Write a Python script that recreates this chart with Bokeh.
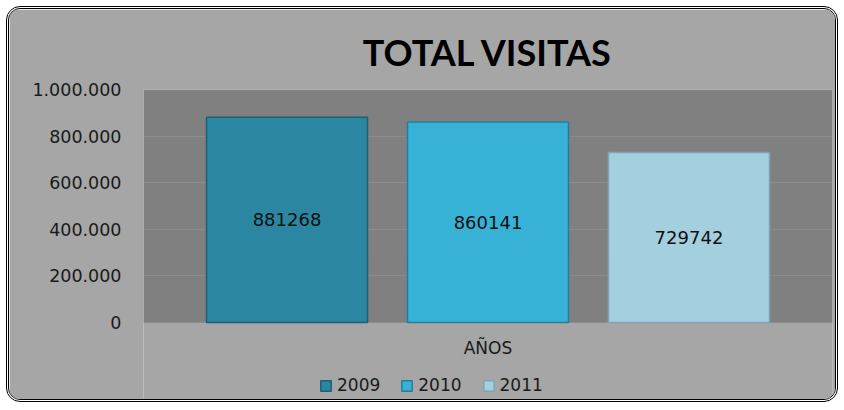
from bokeh.plotting import figure
from bokeh.models import Range1d, FixedTicker, ColumnDataSource, Legend, LegendItem, Title, BoxAnnotation
from bokeh.core.properties import value
from bokeh.embed import file_html
from bokeh.resources import INLINE

years = ["2009", "2010", "2011"]
visits = [881268, 860141, 729742]
category = "AÑOS"
y_ticks = [0, 200000, 400000, 600000, 800000, 1000000]
y_tick_labels = ["0", "200.000", "400.000", "600.000", "800.000", "1.000.000"]
bar_colors = ["#2b86a1", "#38b1d6", "#a3cfdf"]
edge_colors = ["#1d5f73", "#237f9b", "#7fa5b5"]

Y_MAX = 1000000
# layout geometry (pixels): plot-area height and space below it inside the frame
AREA_PX = 233
BELOW_PX = 79
CAT_LABEL_PX = 25
y_start = -BELOW_PX / AREA_PX * Y_MAX
cat_y = -CAT_LABEL_PX / AREA_PX * Y_MAX

# positions of the grouped bars within the single category (x range 0..1)
offsets = [-0.2917, 0.0, 0.2917]
xs = [0.5 + o for o in offsets]
half = [v / 2 for v in visits]

src = ColumnDataSource(dict(x=xs, top=visits, mid=half, color=bar_colors,
                            edge=edge_colors, year=years,
                            label=[str(v) for v in visits]))

p = figure(width=832, height=396, output_backend="svg", toolbar_location=None,
           x_range=Range1d(0, 1), y_range=Range1d(y_start, Y_MAX),
           min_border_left=134, min_border_right=9, min_border_top=80,
           min_border_bottom=4)
p.styles = {"border": "3px double #000000", "border-radius": "14px",
            "margin": "6px 0 0 6px", "overflow": "hidden"}

p.title = Title(text="TOTAL VISITAS", align="center", text_font="Lato",
                text_font_size="36px", text_font_style="bold", text_color="#000000",
                offset=0, standoff=31)
p.background_fill_color = "#a6a6a6"
p.border_fill_color = "#a6a6a6"
p.outline_line_color = None

plot_area = BoxAnnotation(left=0, right=1, bottom=0, top=Y_MAX,
                          fill_color="#808080", fill_alpha=1, line_color=None,
                          level="image")
p.add_layout(plot_area)

r = p.vbar(x="x", top="top", bottom=0, width=0.2337, fill_color="color",
           line_color="edge", line_width=1.5, source=src)

p.text(x="x", y="mid", text="label", source=src, text_align="center",
       text_baseline="middle", text_font=value("DejaVu Sans"),
       text_font_size="18px", text_color="#111111")

p.text(x=[0.5], y=[cat_y], text=[category], text_align="center",
       text_baseline="middle", text_font=value("DejaVu Sans"),
       text_font_size="17px", text_color="#1a1a1a")

p.xaxis.visible = False

p.yaxis.ticker = FixedTicker(ticks=y_ticks)
p.yaxis.major_label_overrides = {t: l for t, l in zip(y_ticks, y_tick_labels)}
p.yaxis.major_tick_line_color = None
p.yaxis.minor_tick_line_color = None
p.yaxis.axis_line_color = None
p.yaxis.major_label_text_font = "DejaVu Sans"
p.yaxis.major_label_text_font_size = "17.5px"
p.yaxis.major_label_text_color = "#1a1a1a"
p.yaxis.major_label_standoff = 16

p.xgrid.grid_line_color = None
p.ygrid.ticker = FixedTicker(ticks=y_ticks)
p.ygrid.grid_line_color = "#8c8c8c"
p.ygrid.grid_line_width = 1

items = [LegendItem(label=y, renderers=[r], index=i) for i, y in enumerate(years)]
legend = Legend(items=items, orientation="horizontal", location=(176, 6),
                background_fill_alpha=0, border_line_color=None,
                label_text_font="DejaVu Sans", label_text_font_size="17px",
                label_text_color="#1a1a1a", glyph_width=13, glyph_height=13,
                label_standoff=5, spacing=20, padding=0, margin=0,
                label_height=18)
p.add_layout(legend)

open("out.html", "w").write(file_html(p, INLINE))
